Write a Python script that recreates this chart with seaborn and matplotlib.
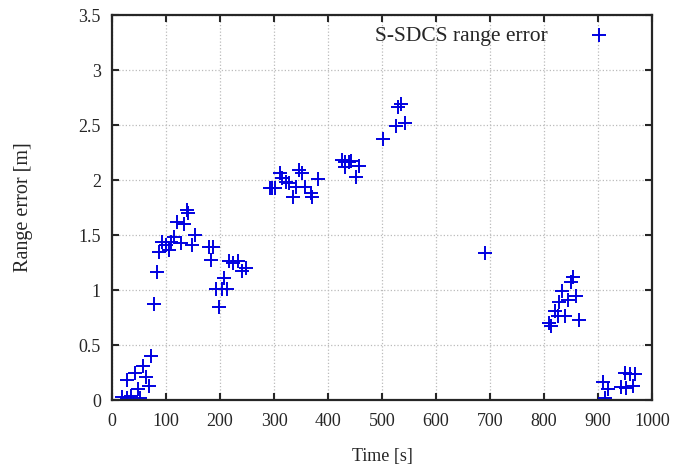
import matplotlib
matplotlib.use("Agg")
import matplotlib.pyplot as plt
import matplotlib.ticker as mticker
import pandas as pd
import seaborn as sns

# data
time_s = [18, 28, 35, 52, 27.7, 42.5, 57, 72, 63, 68, 48,
          78, 83, 87, 92, 100, 105, 109, 115, 120, 133, 139, 140, 128, 153, 148,
          179, 187, 183, 216, 224, 233, 240, 248, 207, 192, 203, 213, 198,
          292, 296, 301, 312, 314, 322, 327, 347, 351, 340, 336, 358, 368, 371, 381,
          425, 432, 438, 443, 457, 431, 451, 501, 525, 542, 530, 536,
          690,
          854, 850, 834, 859, 845, 828, 821, 825, 839, 865, 810, 813,
          909, 919, 913, 950, 959, 968, 943, 952, 965]
range_err = [0.03, 0.02, 0.04, 0.02, 0.18, 0.245, 0.31, 0.40, 0.21, 0.13, 0.10,
             0.87, 1.16, 1.35, 1.44, 1.41, 1.36, 1.44, 1.48, 1.62, 1.60, 1.73, 1.70, 1.43, 1.50, 1.41,
             1.39, 1.39, 1.27, 1.26, 1.25, 1.26, 1.17, 1.20, 1.11, 1.01, 1.01, 1.01, 0.85,
             1.93, 1.93, 1.93, 2.06, 2.02, 1.98, 1.97, 2.09, 2.06, 1.94, 1.85, 1.94, 1.88, 1.85, 2.01,
             2.18, 2.16, 2.16, 2.17, 2.13, 2.12, 2.03, 2.37, 2.49, 2.52, 2.66, 2.69,
             1.34,
             1.12, 1.07, 0.99, 0.95, 0.91, 0.89, 0.81, 0.76, 0.76, 0.73, 0.70, 0.67,
             0.16, 0.10, 0.02, 0.25, 0.24, 0.24, 0.12, 0.11, 0.13]

df = pd.DataFrame({"Time [s]": time_s, "Range error [m]": range_err})

sns.set_style("ticks")
plt.rcParams["font.family"] = ["Liberation Serif", "DejaVu Serif"]

fig = plt.figure(figsize=(6.94, 4.66), dpi=100)
ax = fig.add_axes([0.1614, 0.1416, 0.7781, 0.8262])

sns.scatterplot(data=df, x="Time [s]", y="Range error [m]", marker="+",
                s=95, color="#0000e0", linewidth=1.4, label="S-SDCS range error", ax=ax)

ax.set_xlim(0, 1000)
ax.set_ylim(0, 3.5)
ax.set_xticks(range(0, 1001, 100))
ax.set_yticks([0, 0.5, 1, 1.5, 2, 2.5, 3, 3.5])
ax.yaxis.set_major_formatter(mticker.FormatStrFormatter("%g"))
ax.tick_params(direction="in", top=True, right=True, length=5, width=1.5, labelsize=13)
ax.tick_params(axis="x", pad=9)
ax.tick_params(axis="y", pad=8)
ax.grid(True, linestyle=":", color="#bbbbbb", linewidth=0.9)
for sp in ax.spines.values():
    sp.set_visible(True)
    sp.set_linewidth(1.6)
ax.set_xlabel("Time [s]", fontsize=13, labelpad=13)
ax.set_ylabel("Range error [m]", fontsize=14.5, labelpad=33)

# gnuplot-style key: text first, sample on the right
leg = ax.legend(loc="upper right", frameon=False, markerfirst=False, fontsize=15.5,
                borderaxespad=0.0, handletextpad=1.4, bbox_to_anchor=(0.958, 0.995))

fig.savefig("out.png", dpi=100)
